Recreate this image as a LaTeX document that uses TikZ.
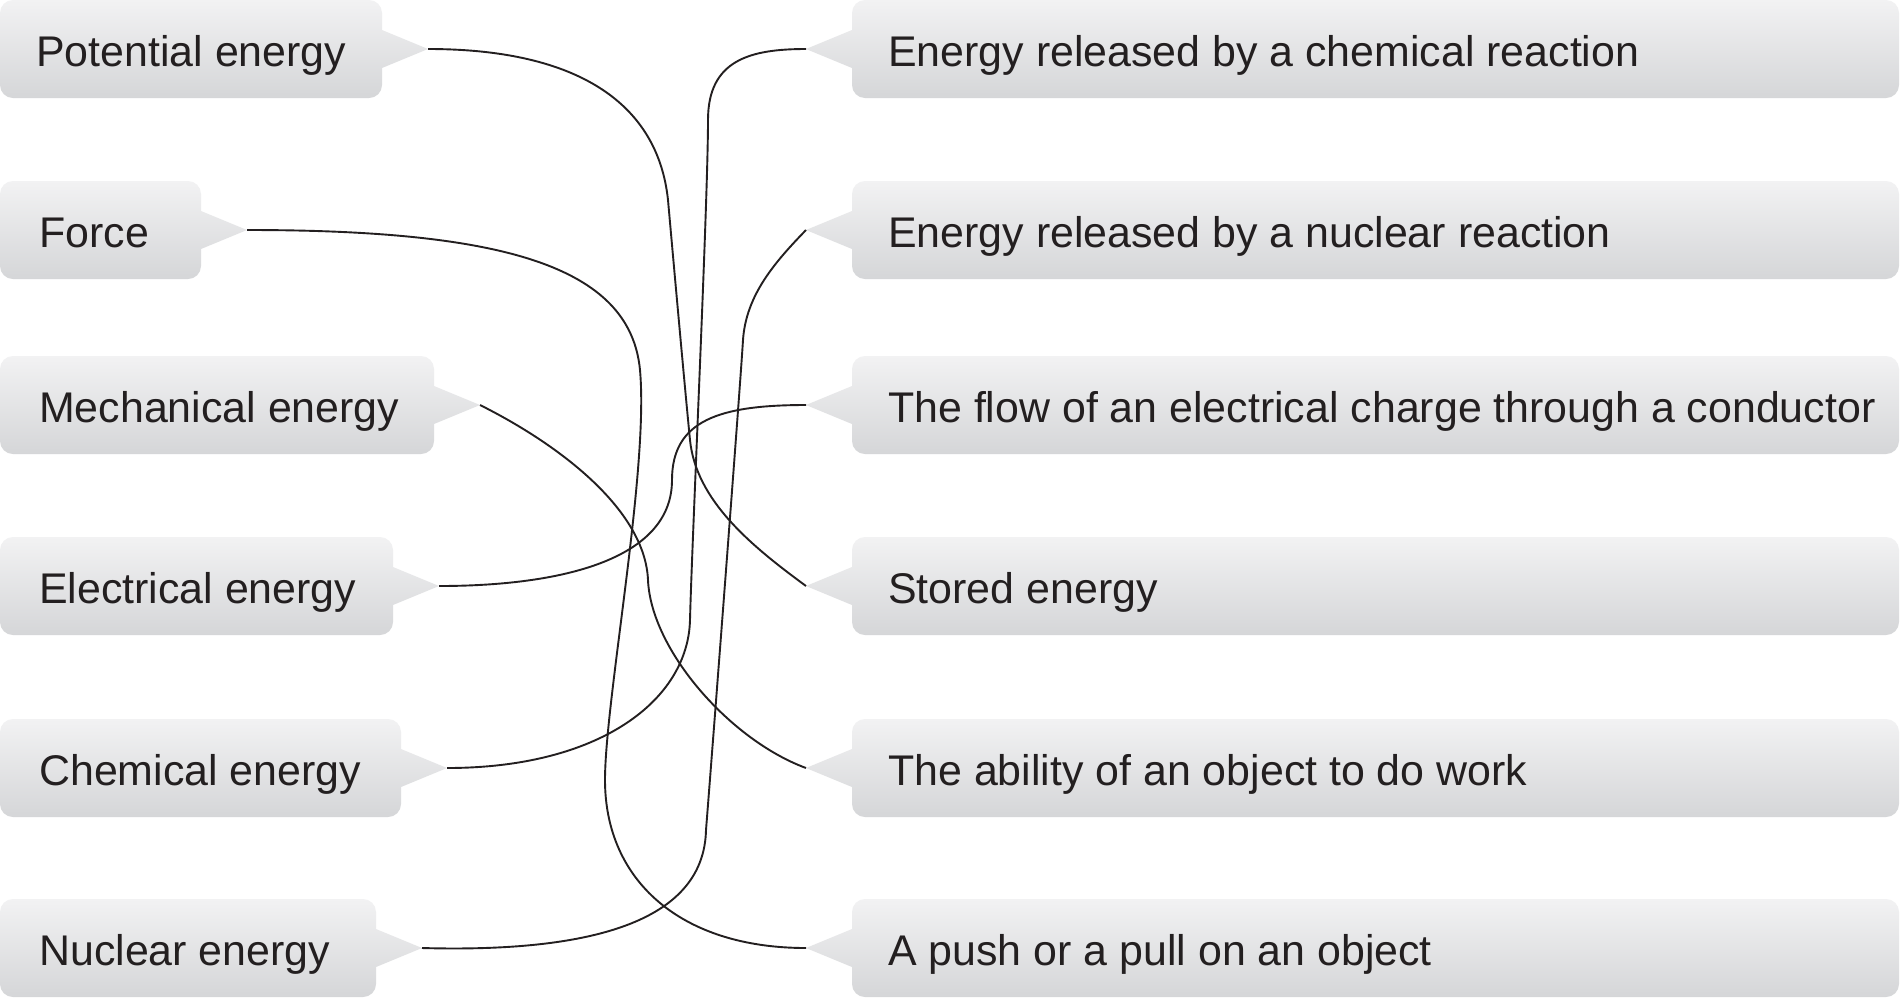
\documentclass[tikz,border=0pt]{standalone}
\usepackage{fontspec}
\setmainfont{Liberation Sans}
\definecolor{boxtop}{RGB}{242,242,243}
\definecolor{boxbot}{RGB}{213,214,216}
\definecolor{ink}{RGB}{35,31,32}
\tikzset{
  boxshape/.style={top color=boxtop,bottom color=boxbot,draw=none},
  boxlabel/.style={anchor=base west,inner sep=0pt,text=ink,font=\fontsize{42.9}{50}\selectfont},
  link/.style={draw=ink,line width=1.9pt}
}
\newcommand\lcallout[5]{%
  \shade[boxshape,rounded corners=13pt] (0,#3-49) rectangle (#2,#3+49)
    [sharp corners] (#2,#3-19) -- (#2+46,#3) -- (#2,#3+19) -- cycle;
  \node[boxlabel] (#1) at (#4,#3+17.5) {#5};
  \coordinate (#1-tip) at (#2+46,#3);
}
\newcommand\rcallout[3]{%
  \shade[boxshape,rounded corners=13pt] (852,#2-49) rectangle (1899,#2+49)
    [sharp corners] (852,#2-19) -- (806,#2) -- (852,#2+19) -- cycle;
  \node[boxlabel] (#1) at (888,#2+17.5) {#3};
  \coordinate (#1-tip) at (806,#2);
}
\begin{document}
\begin{tikzpicture}[x=1pt,y=-1pt]
\useasboundingbox[fill=white] (0,0) rectangle (1900,997);
% left column
\lcallout{pe}{382}{49}{36}{Potential energy}
\lcallout{fo}{201}{230}{39}{Force}
\lcallout{me}{434}{405}{39}{Mechanical energy}
\lcallout{el}{393}{586}{39}{Electrical energy}
\lcallout{ch}{401}{768}{39}{Chemical energy}
\lcallout{nu}{376}{948}{39}{Nuclear energy}
% right column
\rcallout{cr}{49}{Energy released by a chemical reaction}
\rcallout{nr}{230}{Energy released by a nuclear reaction}
\rcallout{fl}{405}{The flow of an electrical charge through a conductor}
\rcallout{se}{586}{Stored energy}
\rcallout{ab}{768}{The ability of an object to do work}
\rcallout{pp}{948}{A push or a pull on an object}
% connectors
\draw[link] (pe-tip) .. controls (580,49) and (658,105) .. (668,200)
  .. controls (676,290) and (686,400) .. (690,440)
  .. controls (696,500) and (750,545) .. (se-tip);
\draw[link] (fo-tip) .. controls (500,230) and (630,265) .. (640,370)
  .. controls (649,470) and (605,700) .. (605,780)
  .. controls (605,880) and (680,948) .. (pp-tip);
\draw[link] (me-tip) .. controls (560,445) and (645,510) .. (648,580)
  .. controls (651,650) and (730,740) .. (ab-tip);
\draw[link] (el-tip) .. controls (560,586) and (672,560) .. (672,480)
  .. controls (672,420) and (720,405) .. (fl-tip);
\draw[link] (ch-tip) .. controls (600,768) and (688,700) .. (690,620)
  .. controls (692,540) and (708,200) .. (708,120)
  .. controls (708,60) and (750,49) .. (cr-tip);
\draw[link] (nu-tip) .. controls (600,953) and (704,918) .. (706,830)
  .. controls (710,780) and (740,390) .. (743,340)
  .. controls (746,295) and (775,262) .. (nr-tip);
\end{tikzpicture}
\end{document}
